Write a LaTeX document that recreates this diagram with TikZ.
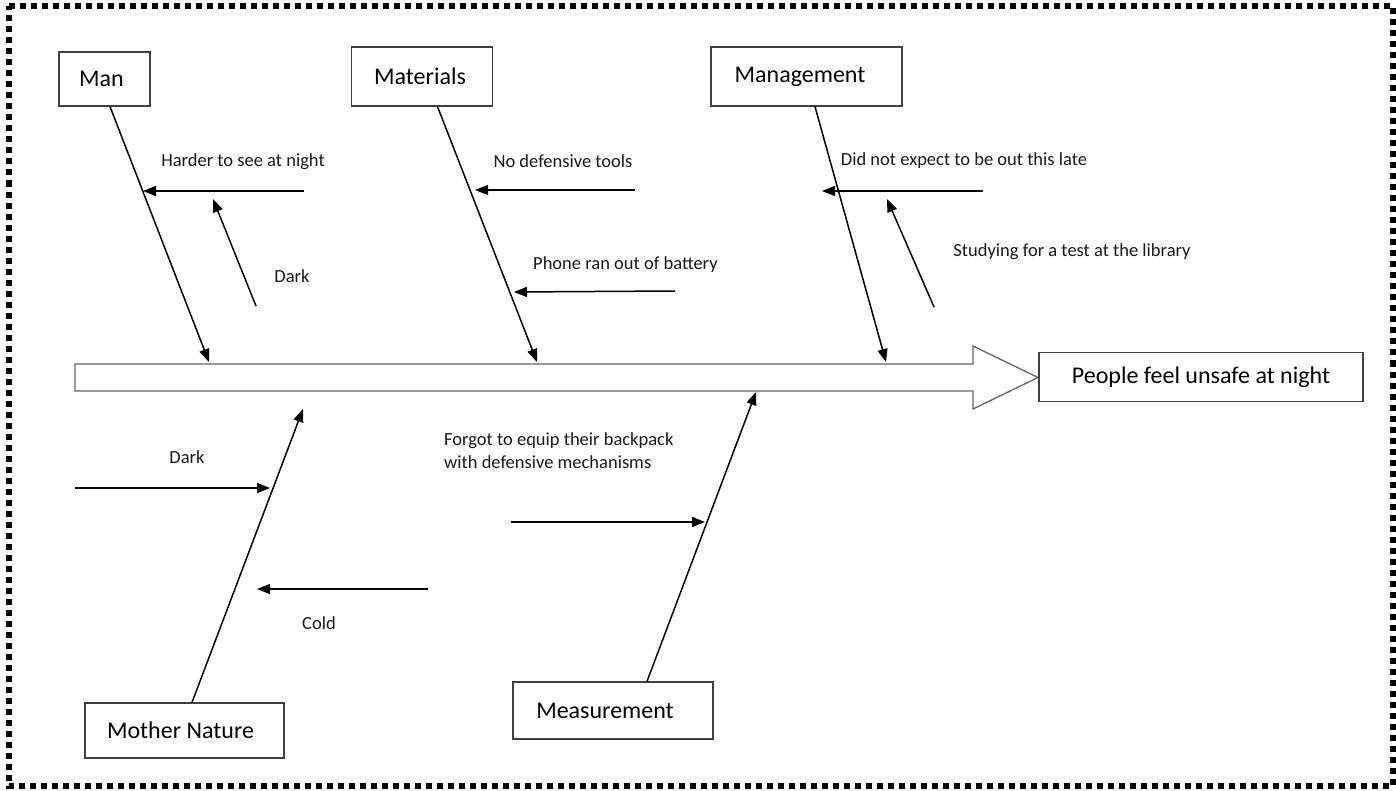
\documentclass[tikz,border=0pt]{standalone}
\usepackage{fontspec}
\setmainfont{Carlito}
\usetikzlibrary{arrows.meta}
\begin{document}
\begin{tikzpicture}[x=1pt,y=-1pt,
  catbox/.style={draw=black!75, line width=1.2pt, rectangle, inner sep=0pt, font=\fontsize{24}{28}\selectfont},
  bone/.style={draw=black, line width=1.5pt, -{Triangle[length=13pt,width=10pt]}},
  lbl/.style={font=\fontsize{18.5}{23}\selectfont, inner sep=0pt, text=black!90}]
\useasboundingbox (0,0) rectangle (1396,791);
% dotted frame
\draw[line width=6pt, dash pattern=on 6pt off 5pt] (8.5,6.5) -- (1392.5,6.5) -- (1392.5,786) -- (8.5,786) -- cycle;
% spine
\draw[draw=black!60, line width=1.3pt, fill=white] (75,364) -- (973,364) -- (973,346) -- (1038,377.5) -- (973,409) -- (973,391) -- (75,391) -- cycle;
% boxes
\node[catbox, minimum width=91pt, minimum height=54pt] (man) at (104.5,79) {\hspace*{-6pt}Man};
\node[catbox, minimum width=141pt, minimum height=59pt] (materials) at (422,76.5) {\hspace*{-4pt}Materials};
\node[catbox, minimum width=191pt, minimum height=59pt] (management) at (806.5,76.5) {\hspace*{-13pt}Management};
\node[catbox, minimum width=324pt, minimum height=49pt] (effect) at (1201,377) {People feel unsafe at night};
\node[catbox, minimum width=199pt, minimum height=55pt] (mother) at (184.5,730.5) {\hspace*{-8pt}Mother Nature};
\node[catbox, minimum width=200pt, minimum height=57pt] (measure) at (613,710.5) {\hspace*{-16pt}Measurement};
% bone end points
\coordinate (manE) at (209,362);
\coordinate (matE) at (537,362);
\coordinate (mgtE) at (886,362);
\coordinate (motE) at (303,409);
\coordinate (meaE) at (756,392);
\draw[bone] ([xshift=5.5pt]man.south) -- (manE);
\draw[bone] ([xshift=15.5pt]materials.south) -- (matE);
\draw[bone] ([xshift=8.5pt]management.south) -- (mgtE);
\draw[bone] ([xshift=7.5pt]mother.north) -- (motE);
\draw[bone] ([xshift=34pt]measure.north) -- (meaE);
% causes: Man
\coordinate (a1s) at (304,191); \coordinate (a1e) at (143,191);
\draw[bone] (a1s) -- (a1e);
\node[lbl] (t1) at (243,162) {Harder to see at night};
\coordinate (a2s) at (256,306); \coordinate (a2e) at (213,199);
\draw[bone] (a2s) -- (a2e);
\node[lbl] (t2) at (292,276) {Dark};
% Materials
\coordinate (b1s) at (635,190); \coordinate (b1e) at (475,190);
\draw[bone] (b1s) -- (b1e);
\node[lbl] (t3) at (563,161) {No defensive tools};
\coordinate (b2s) at (675,291); \coordinate (b2e) at (514,292);
\draw[bone] (b2s) -- (b2e);
\node[lbl, anchor=west] (t4) at (533,265) {Phone ran out of battery};
% Management
\coordinate (c1s) at (983,191); \coordinate (c1e) at (822,191);
\draw[bone] (c1s) -- (c1e);
\node[lbl] (t5) at (964,161) {Did not expect to be out this late};
\coordinate (c2s) at (934,307); \coordinate (c2e) at (887,199);
\draw[bone] (c2s) -- (c2e);
\node[lbl] (t6) at (1072,252) {Studying for a test at the library};
% Mother Nature
\coordinate (d1s) at (75,488); \coordinate (d1e) at (270,488);
\draw[bone] (d1s) -- (d1e);
\node[lbl] (t7) at (187,457) {Dark};
\coordinate (d2s) at (428,589); \coordinate (d2e) at (257,589);
\draw[bone] (d2s) -- (d2e);
\node[lbl] (t8) at (319,623) {Cold};
% Measurement
\coordinate (e1s) at (511,522); \coordinate (e1e) at (705,522);
\draw[bone] (e1s) -- (e1e);
\node[lbl, anchor=west, align=left] (t9) at (444,451) {Forgot to equip their backpack\\with defensive mechanisms};
\end{tikzpicture}
\end{document}
